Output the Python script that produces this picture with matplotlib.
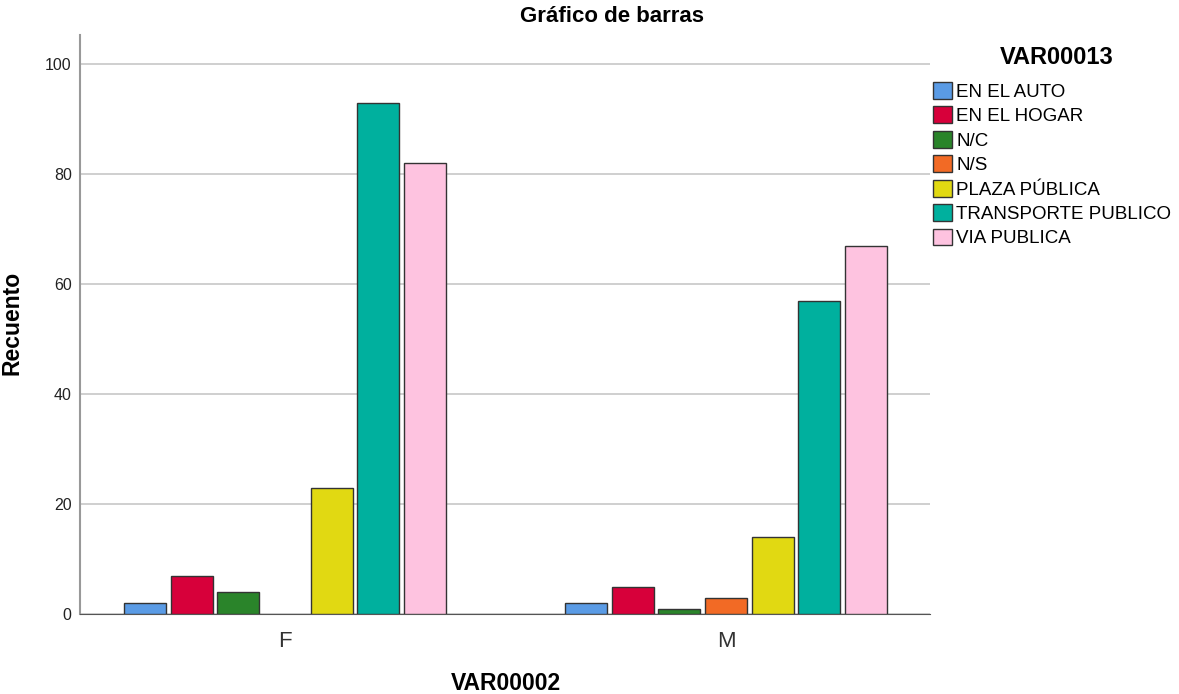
import matplotlib.pyplot as plt
import numpy as np

plt.rcParams['font.family'] = ['Liberation Sans', 'DejaVu Sans']

groups = ['F', 'M']
categories = ['EN EL AUTO', 'EN EL HOGAR', 'N/C', 'N/S', 'PLAZA PÚBLICA',
              'TRANSPORTE PUBLICO', 'VIA PUBLICA']
counts_f = [2, 7, 4, 0, 23, 93, 82]
counts_m = [2, 5, 1, 3, 14, 57, 67]
colors = ['#5A9BE5', '#D7003A', '#2A842A', '#F26A25', '#E1D912', '#00B09E', '#FEC3E0']

W, H = 1179, 694
fig = plt.figure(figsize=(W / 100, H / 100), dpi=100)
ax = fig.add_axes([80 / W, 1 - 614 / H, 850 / W, 579 / H])

x = np.arange(len(groups))
pitch = 0.1059
width = 0.0952
values = np.array([counts_f, counts_m])
for i, cat in enumerate(categories):
    v = values[:, i]
    h = np.where(v > 0, v, np.nan)  # SPSS draws nothing for empty cells
    ax.bar(x + (i - 3) * pitch, h, width, color=colors[i],
           edgecolor='#333333', linewidth=1, label=cat, zorder=3)

ax.set_xlim(-0.465, 1.4626)
ax.set_ylim(0, 105.3)
ax.set_yticks([0, 20, 40, 60, 80, 100])
ax.set_xticks(x)
ax.set_xticklabels(groups, fontsize=16, color='#333333')
ax.tick_params(axis='y', labelsize=11.5, length=0, pad=6, colors='#222222')
ax.tick_params(axis='x', length=0, pad=12)
ax.grid(axis='y', color='#cfcfcf', linewidth=1.4, zorder=0)
for s in ['top', 'right']:
    ax.spines[s].set_visible(False)
ax.spines['left'].set_color('#999999')
ax.spines['left'].set_linewidth(1.5)
ax.spines['bottom'].set_color('#555555')

fig.text(612 / W, 1 - 17 / H, 'Gráfico de barras', fontsize=16, fontweight='bold',
         ha='center', va='center')
fig.text(12 / W, 1 - 323 / H, 'Recuento', fontsize=16.5, fontweight='bold',
         rotation=90, ha='center', va='center')
fig.text(506 / W, 1 - 684 / H, 'VAR00002', fontsize=16.5, fontweight='bold',
         ha='center', va='center')

# legend title placed on its own, as SPSS leaves a larger gap under it
fig.text(1057 / W, 1 - 57 / H, 'VAR00013', fontsize=17, fontweight='bold',
         ha='center', va='center')
leg = fig.legend(loc='upper left', bbox_to_anchor=(933 / W, 1 - 82 / H), frameon=False,
                 fontsize=13.5, handlelength=1.0, handleheight=1.0,
                 handletextpad=0.25, labelspacing=0.3, borderaxespad=0, borderpad=0)

plt.savefig('out.png', dpi=100)
